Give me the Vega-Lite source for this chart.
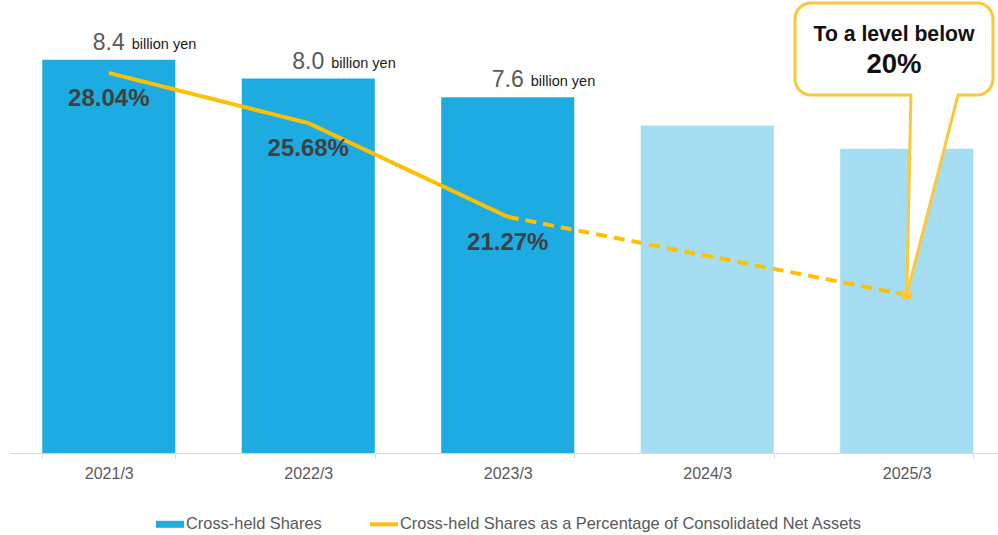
{
  "$schema": "https://vega.github.io/schema/vega-lite/v6.json",
  "width": 989,
  "height": 453,
  "autosize": {"type": "none"},
  "padding": {"left": 9, "top": 0, "right": 0, "bottom": 82},
  "background": "white",
  "config": {"view": {"stroke": null}, "font": "Liberation Sans"},
  "datasets": {
    "bars": [
      {"year": "2021/3", "shares": 8.4, "status": "actual"},
      {"year": "2022/3", "shares": 8.0, "status": "actual"},
      {"year": "2023/3", "shares": 7.6, "status": "actual"},
      {"year": "2024/3", "shares": 7.0, "status": "plan"},
      {"year": "2025/3", "shares": 6.5, "status": "plan"}
    ],
    "ratio": [
      {"year": "2021/3", "pct": 28.04, "seg": "actual", "plabel": "28.04%"},
      {"year": "2022/3", "pct": 25.68, "seg": "actual", "plabel": "25.68%"},
      {"year": "2023/3", "pct": 21.27, "seg": "actual", "plabel": "21.27%"},
      {"year": "2023/3", "pct": 21.27, "seg": "plan", "plabel": ""},
      {"year": "2025/3", "pct": 17.6, "seg": "plan", "plabel": ""}
    ],
    "box": [{"x1": 3.94, "x2": 4.932, "y1": 31.33, "y2": 27.0}],
    "pointerFill": [
      {"cy": 27.14, "ca": 4.521, "cb": 4.757},
      {"cy": 17.6, "ca": 4.5, "cb": 4.5}
    ],
    "pointer": [
      {"x1": 4.521, "y1": 27.0, "x2": 4.5, "y2": 17.6},
      {"x1": 4.757, "y1": 27.0, "x2": 4.5, "y2": 17.6}
    ],
    "callText": [
      {"line": 1, "text": "To a level below", "xu": 4.436, "cy": 29.555},
      {"line": 2, "text": "20%", "xu": 4.436, "cy": 28.05}
    ]
  },
  "layer": [
    {
      "data": {"name": "bars"},
      "mark": {"type": "bar"},
      "encoding": {
        "x": {"field": "year", "type": "nominal", "scale": {"type": "band", "domain": ["2021/3", "2022/3", "2023/3", "2024/3", "2025/3"], "range": [0, 997.5], "paddingInner": 0.333, "paddingOuter": 0.1667},
          "axis": {"title": null, "labelFont": "Liberation Sans", "labelFontSize": 16, "labelColor": "#595959", "labelPadding": 7, "labelAngle": 0, "domainColor": "#D9D9D9", "domainWidth": 1, "tickColor": "#D9D9D9", "tickSize": 5, "tickBand": "extent", "grid": false}},
        "y": {"field": "shares", "type": "quantitative", "scale": {"domain": [0, 9.679], "nice": false, "zero": false}, "axis": null},
        "color": {"datum": "Cross-held Shares", "type": "nominal",
          "scale": {"domain": ["Cross-held Shares", "Cross-held Shares as a Percentage of Consolidated Net Assets"], "range": ["#1DABE2", "#FFC000"]},
          "legend": {"orient": "none", "legendX": 147, "legendY": 510, "direction": "horizontal", "columns": 2, "columnPadding": 48, "title": null, "padding": 0,
            "labelFont": "Liberation Sans", "labelFontSize": 16.4, "labelColor": "#595959", "labelLimit": 700, "labelOffset": 2, "symbolSize": 784, "symbolOpacity": 1,
            "encode": {"symbols": {"update": {
              "shape": {"signal": "datum.value === 'Cross-held Shares' ? 'M-1,-0.25H1V0.25H-1Z' : 'M-1,-0.14H1V0.14H-1Z'"},
              "fill": {"scale": "color", "field": "value"},
              "stroke": {"value": "transparent"},
              "strokeWidth": {"value": 0},
              "size": {"value": 784},
              "opacity": {"value": 1}
            }}}}},
        "opacity": {"condition": {"test": "datum.status === 'plan'", "value": 0.4}, "value": 1}
      }
    },
    {
      "data": {"name": "box"},
      "mark": {"type": "rect", "fill": "white", "stroke": "#FDC73A", "strokeWidth": 3, "cornerRadius": 16},
      "encoding": {
        "x": {"field": "x1", "type": "quantitative", "scale": {"domain": [0, 5], "range": [0, 997.5], "nice": false, "zero": false}, "axis": null},
        "x2": {"field": "x2"},
        "y": {"field": "y1", "type": "quantitative", "scale": {"domain": [10.16, 31.47], "nice": false, "zero": false}, "axis": null},
        "y2": {"field": "y2"}
      }
    },
    {
      "data": {"name": "pointerFill"},
      "mark": {"type": "area", "orient": "horizontal", "fill": "white"},
      "encoding": {
        "y": {"field": "cy", "type": "quantitative", "scale": {"domain": [10.16, 31.47], "nice": false, "zero": false}, "axis": null},
        "x": {"field": "ca", "type": "quantitative", "scale": {"domain": [0, 5], "range": [0, 997.5], "nice": false, "zero": false}, "axis": null},
        "x2": {"field": "cb"}
      }
    },
    {
      "data": {"name": "pointer"},
      "mark": {"type": "rule", "stroke": "#FDC73A", "strokeWidth": 3, "strokeCap": "round"},
      "encoding": {
        "x": {"field": "x1", "type": "quantitative", "scale": {"domain": [0, 5], "range": [0, 997.5], "nice": false, "zero": false}, "axis": null},
        "x2": {"field": "x2"},
        "y": {"field": "y1", "type": "quantitative", "scale": {"domain": [10.16, 31.47], "nice": false, "zero": false}, "axis": null},
        "y2": {"field": "y2"}
      }
    },
    {
      "data": {"name": "ratio"},
      "mark": {"type": "line", "strokeWidth": 4},
      "encoding": {
        "x": {"field": "year", "type": "nominal", "scale": {"type": "band", "domain": ["2021/3", "2022/3", "2023/3", "2024/3", "2025/3"], "range": [0, 997.5], "paddingInner": 0.333, "paddingOuter": 0.1667}, "axis": null},
        "y": {"field": "pct", "type": "quantitative", "scale": {"domain": [10.16, 31.47], "nice": false, "zero": false}, "axis": null},
        "color": {"datum": "Cross-held Shares as a Percentage of Consolidated Net Assets", "type": "nominal"},
        "strokeDash": {"field": "seg", "type": "nominal", "scale": {"domain": ["actual", "plan"], "range": [[1, 0], [11, 7]]}, "legend": null}
      }
    },
    {
      "data": {"name": "ratio"},
      "transform": [{"filter": "datum.year === '2025/3'"}],
      "mark": {"type": "point", "filled": true, "size": 120, "color": "#FDC73A", "opacity": 1},
      "encoding": {
        "x": {"field": "year", "type": "nominal", "scale": {"type": "band", "domain": ["2021/3", "2022/3", "2023/3", "2024/3", "2025/3"], "range": [0, 997.5], "paddingInner": 0.333, "paddingOuter": 0.1667}, "axis": null},
        "y": {"field": "pct", "type": "quantitative", "scale": {"domain": [10.16, 31.47], "nice": false, "zero": false}, "axis": null}
      }
    },
    {
      "data": {"name": "bars"},
      "transform": [{"filter": "datum.status === 'actual'"}],
      "mark": {"type": "text", "font": "Liberation Sans", "fontSize": 23, "color": "#595959", "align": "center", "baseline": "alphabetic", "dy": -10},
      "encoding": {
        "x": {"field": "year", "type": "nominal", "scale": {"type": "band", "domain": ["2021/3", "2022/3", "2023/3", "2024/3", "2025/3"], "range": [0, 997.5], "paddingInner": 0.333, "paddingOuter": 0.1667}, "axis": null},
        "y": {"field": "shares", "type": "quantitative", "scale": {"domain": [0, 9.679], "nice": false, "zero": false}, "axis": null},
        "text": {"field": "shares", "type": "quantitative", "format": ".1f"}
      }
    },
    {
      "data": {"name": "bars"},
      "transform": [{"filter": "datum.status === 'actual'"}],
      "mark": {"type": "text", "font": "Liberation Sans", "fontSize": 14.5, "color": "#1A1A1A", "align": "left", "baseline": "alphabetic", "dx": 23, "dy": -11, "text": "billion yen"},
      "encoding": {
        "x": {"field": "year", "type": "nominal", "scale": {"type": "band", "domain": ["2021/3", "2022/3", "2023/3", "2024/3", "2025/3"], "range": [0, 997.5], "paddingInner": 0.333, "paddingOuter": 0.1667}, "axis": null},
        "y": {"field": "shares", "type": "quantitative", "scale": {"domain": [0, 9.679], "nice": false, "zero": false}, "axis": null}
      }
    },
    {
      "data": {"name": "ratio"},
      "transform": [{"filter": "datum.plabel !== ''"}],
      "mark": {"type": "text", "font": "Liberation Sans", "fontSize": 24, "fontWeight": "bold", "color": "#404040", "align": "center", "baseline": "alphabetic", "dy": 33},
      "encoding": {
        "x": {"field": "year", "type": "nominal", "scale": {"type": "band", "domain": ["2021/3", "2022/3", "2023/3", "2024/3", "2025/3"], "range": [0, 997.5], "paddingInner": 0.333, "paddingOuter": 0.1667}, "axis": null},
        "y": {"field": "pct", "type": "quantitative", "scale": {"domain": [10.16, 31.47], "nice": false, "zero": false}, "axis": null},
        "text": {"field": "plabel", "type": "nominal"}
      }
    },
    {
      "data": {"name": "callText"},
      "transform": [{"filter": "datum.line === 1"}],
      "mark": {"type": "text", "font": "Liberation Sans", "fontWeight": "bold", "fontSize": 21.2, "color": "#111111", "align": "center", "baseline": "alphabetic"},
      "encoding": {
        "x": {"field": "xu", "type": "quantitative", "scale": {"domain": [0, 5], "range": [0, 997.5], "nice": false, "zero": false}, "axis": null},
        "y": {"field": "cy", "type": "quantitative", "scale": {"domain": [10.16, 31.47], "nice": false, "zero": false}, "axis": null},
        "text": {"field": "text", "type": "nominal"}
      }
    },
    {
      "data": {"name": "callText"},
      "transform": [{"filter": "datum.line === 2"}],
      "mark": {"type": "text", "font": "Liberation Sans", "fontWeight": "bold", "fontSize": 27.5, "color": "#111111", "align": "center", "baseline": "alphabetic"},
      "encoding": {
        "x": {"field": "xu", "type": "quantitative", "scale": {"domain": [0, 5], "range": [0, 997.5], "nice": false, "zero": false}, "axis": null},
        "y": {"field": "cy", "type": "quantitative", "scale": {"domain": [10.16, 31.47], "nice": false, "zero": false}, "axis": null},
        "text": {"field": "text", "type": "nominal"}
      }
    }
  ],
  "resolve": {"scale": {"x": "independent", "y": "independent"}}
}
